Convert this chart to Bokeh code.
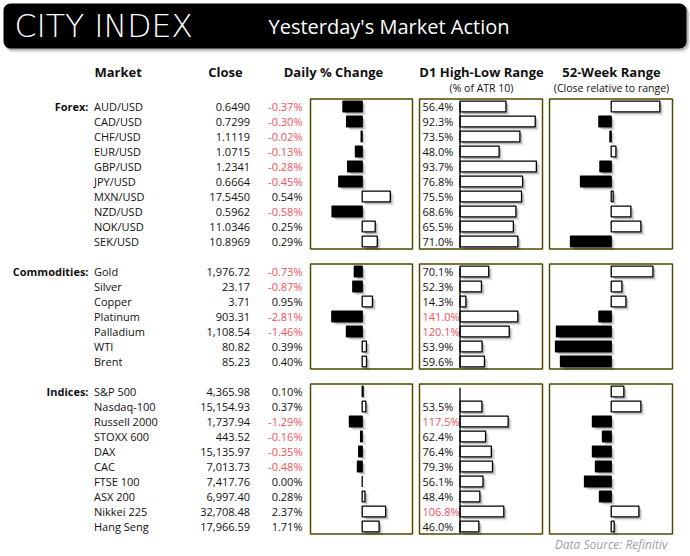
from bokeh.plotting import figure
from bokeh.models import Range1d, BoxAnnotation
from bokeh.core.properties import value
from bokeh.embed import file_html
from bokeh.resources import INLINE

# ---------------- data ----------------
forex_names = ["AUD/USD", "CAD/USD", "CHF/USD", "EUR/USD", "GBP/USD", "JPY/USD",
               "MXN/USD", "NZD/USD", "NOK/USD", "SEK/USD"]
forex_close = [0.6490, 0.7299, 1.1119, 1.0715, 1.2341, 0.6664, 17.5450, 0.5962, 11.0346, 10.8969]
forex_daily = [-0.37, -0.30, -0.02, -0.13, -0.28, -0.45, 0.54, -0.58, 0.25, 0.29]
forex_d1 = [56.4, 92.3, 73.5, 48.0, 93.7, 76.8, 75.5, 68.6, 65.5, 71.0]
forex_52w = [42.3, -10.7, -1.1, 4.1, -9.8, -26.7, 1.7, 17.1, 25.8, -35.4]

comm_names = ["Gold", "Silver", "Copper", "Platinum", "Palladium", "WTI", "Brent"]
comm_close = [1976.72, 23.17, 3.71, 903.31, 1108.54, 80.82, 85.23]
comm_daily = [-0.73, -0.87, 0.95, -2.81, -1.46, 0.39, 0.40]
comm_d1 = [70.1, 52.3, 14.3, 141.0, 120.1, 53.9, 59.6]
comm_52w = [36.3, 9.3, 12.8, -10.7, -47.6, -48.4, -44.1]

idx_names = ["S&P 500", "Nasdaq-100", "Russell 2000", "STOXX 600", "DAX", "CAC",
             "FTSE 100", "ASX 200", "Nikkei 225", "Hang Seng"]
idx_close = [4365.98, 15154.93, 1737.94, 443.52, 15135.97, 7013.73, 7417.76, 6997.40, 32708.48, 17966.59]
idx_daily = [0.10, 0.37, -1.29, -0.16, -0.35, -0.48, 0.00, 0.28, 2.37, 1.71]
idx_d1 = [None, 53.5, 117.5, 62.4, 76.4, 79.3, 56.1, 48.4, 106.8, 46.0]
idx_52w = [11.0, 25.8, -16.3, -7.6, -16.3, -13.7, -23.2, -10.2, 24.1, 2.6]

section_labels = ["Forex:", "Commodities:", "Indices:"]
column_titles = ["Market", "Close", "Daily % Change", "D1 High-Low Range", "52-Week Range"]
column_subtitles = ["(% of ATR 10)", "(Close relative to range)"]

# ---------------- style / layout ----------------
FONT = value("Open Sans")
RED = "#f5505a"
TXT = "#111111"
BOX = "#4f4a00"
W, H = 690, 556
X0, Y0 = 0, 0            # page offset of the figure
ROW_Y0, ROW_H = 106, 15  # page y of row 0 and row pitch

p = figure(width=W, height=H, x_range=Range1d(X0, X0 + W), y_range=Range1d(Y0 + H, Y0),
           output_backend="svg", toolbar_location=None, min_border=0,
           x_axis_location=None, y_axis_location=None, outline_line_color=None)
p.grid.visible = False
p.background_fill_color = "white"
p.extra_y_ranges = {"rows": Range1d(start=(Y0 + H - ROW_Y0) / ROW_H, end=(Y0 - ROW_Y0) / ROW_H)}


def add_xrange(name, zero_px, px_per_unit):
    p.extra_x_ranges[name] = Range1d(start=(X0 - zero_px) / px_per_unit,
                                     end=(X0 + W - zero_px) / px_per_unit)


# header
for l, r, t, b, a, rad in [(5, 689, 6, 52, 0.10, 8), (4, 688, 4, 50, 0.22, 8), (3, 686, 3, 48, 1.0, 7)]:
    p.add_layout(BoxAnnotation(left=l, right=r, top=t, bottom=b, fill_color="#000000", fill_alpha=a,
                               line_color=None, border_radius=rad, level="underlay"))
p.text(x=[14], y=[25], text=["CITY INDEX"], text_font=value("DejaVu Sans Light"), text_font_size="31.5px",
       text_color="white", text_baseline="middle", text_align="left")
p.text(x=[268], y=[26], text=["Yesterday's Market Action"], text_font=FONT, text_font_size="20px",
       text_color="white", text_baseline="middle", text_align="left")

# column titles
p.text(x=[94, 225, 333, 481, 611], y=[71] * 5, text=column_titles, text_font=FONT,
       text_font_size="13px", text_font_style="bold", text_color=TXT, text_baseline="middle",
       text_align=["left", "center", "center", "center", "center"])
p.text(x=[481, 611], y=[87.5, 87.5], text=column_subtitles, text_font=FONT, text_font_size="10.5px",
       text_color=TXT, text_baseline="middle", text_align="center")

sections = [
    dict(label=section_labels[0], names=forex_names, close=forex_close, daily=forex_daily,
         d1=forex_d1, wk=forex_52w, first=0, fmt="{:.4f}", kd=52.0, k1=0.815),
    dict(label=section_labels[1], names=comm_names, close=comm_close, daily=comm_daily,
         d1=comm_d1, wk=comm_52w, first=11, fmt="{:,.2f}", kd=10.8, k1=0.41),
    dict(label=section_labels[2], names=idx_names, close=idx_close, daily=idx_daily,
         d1=idx_d1, wk=idx_52w, first=19, fmt="{:,.2f}", kd=9.9, k1=0.41),
]

DAILY_ZERO, D1_ZERO, WK_ZERO = 361.7, 459.5, 610.7
WK_K = 1.15
BAR_H = 0.36
SH = [(2.0, 0.20), (3.5, 0.10)]   # shadow offsets in px, alpha


def bars(vals, rows, rname, k):
    lefts, rights, ys, fills = [], [], [], []
    for v, r in zip(vals, rows):
        if v is None:
            continue
        lefts.append(min(0.0, v))
        rights.append(max(0.0, v))
        ys.append(r)
        fills.append("black" if v < 0 else "white")
    for off, a in SH:
        dx, dy = off / k, off / ROW_H
        p.quad(left=[l + dx for l in lefts], right=[r + dx for r in rights],
               top=[y - BAR_H + dy for y in ys], bottom=[y + BAR_H + dy for y in ys],
               fill_color="black", fill_alpha=a, line_color=None,
               x_range_name=rname, y_range_name="rows")
    p.quad(left=lefts, right=rights, top=[y - BAR_H for y in ys], bottom=[y + BAR_H for y in ys],
           fill_color=fills, line_color="black", line_width=1.3,
           x_range_name=rname, y_range_name="rows")


for i, s in enumerate(sections):
    n = len(s["names"])
    rows = [s["first"] + j for j in range(n)]
    first, last = rows[0], rows[-1]

    # panel frames
    p.quad(left=[310, 419, 549], right=[412, 542, 672], top=[first - 0.5] * 3,
           bottom=[last + 0.5] * 3, fill_color=None, line_color=BOX, line_width=1.5,
           y_range_name="rows")

    # texts
    p.text(x=[88], y=[first], text=[s["label"]], text_font=FONT, text_font_size="11px",
           text_font_style="bold", text_color=TXT, text_align="right", text_baseline="middle",
           y_range_name="rows")
    p.text(x=[93.5] * n, y=rows, text=s["names"], text_font=FONT, text_font_size="11px",
           text_color=TXT, text_align="left", text_baseline="middle", y_range_name="rows")
    p.text(x=[249.5] * n, y=rows, text=[s["fmt"].format(c) for c in s["close"]], text_font=FONT,
           text_font_size="11px", text_color=TXT, text_align="right", text_baseline="middle",
           y_range_name="rows")
    p.text(x=[302] * n, y=rows, text=["{:.2f}%".format(v) for v in s["daily"]], text_font=FONT,
           text_font_size="11px", text_color=[RED if v < 0 else TXT for v in s["daily"]],
           text_align="right", text_baseline="middle", y_range_name="rows")
    d1_rows = [r for r, v in zip(rows, s["d1"]) if v is not None]
    d1_vals = [v for v in s["d1"] if v is not None]
    p.text(x=[422] * len(d1_vals), y=d1_rows, text=["{:.1f}%".format(v) for v in d1_vals],
           text_font=FONT, text_font_size="11px",
           text_color=[RED if v > 100 else TXT for v in d1_vals],
           text_align="left", text_baseline="middle", y_range_name="rows")

    # scales
    dn, hn, wn = f"daily{i}", f"d1{i}", f"wk{i}"
    add_xrange(dn, DAILY_ZERO, s["kd"])
    add_xrange(hn, D1_ZERO, s["k1"])
    add_xrange(wn, WK_ZERO, WK_K)

    bars(s["daily"], rows, dn, s["kd"])
    bars(s["d1"], rows, hn, s["k1"])
    bars(s["wk"], rows, wn, WK_K)

    # D1 base line
    p.segment(x0=[0], x1=[0], y0=[first - 0.25], y1=[last + 0.45], line_color="black",
              line_width=1.3, x_range_name=hn, y_range_name="rows")

p.text(x=[667], y=[544], text=["Data Source: Refinitiv"], text_font=FONT, text_font_size="12px",
       text_font_style="italic", text_color="#a0a0a0", text_align="right", text_baseline="middle")

open("out.html", "w").write(file_html(p, INLINE))
